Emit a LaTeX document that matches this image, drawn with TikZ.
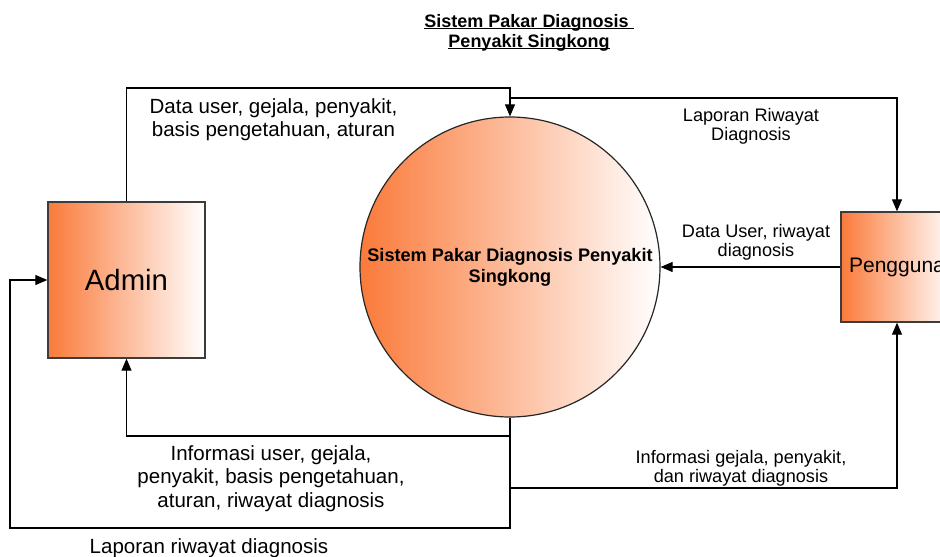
\documentclass[tikz,border=0pt]{standalone}
\usepackage{fontspec}
\setmainfont{Liberation Sans}
\usetikzlibrary{arrows.meta}

\definecolor{entityorange}{RGB}{250,122,58}
\definecolor{framegray}{RGB}{60,60,60}

% underline drawn just below the baseline, crossing the descenders
\newcommand\ulined[1]{\setbox0\hbox{#1}\rlap{\rule[-0.13em]{\wd0}{0.065em}}\box0}
% centred lines whose baseline is the first line's
\newcommand\rows[1]{\begin{tabular}[t]{@{}c@{}}#1\end{tabular}}

\begin{document}
\begin{tikzpicture}[x=0.75pt,y=-0.75pt,
  flow/.style={draw=black, line width=0.8pt, -{Triangle[length=9pt,width=7.5pt]}},
  entity/.style={rectangle, draw=framegray, line width=1pt, left color=entityorange, right color=white, inner sep=0pt},
  process/.style={circle, draw=black!85, line width=0.9pt, left color=entityorange, right color=white, minimum size=225pt, inner sep=0pt, align=center},
  biglabel/.style={inner sep=0pt, anchor=base, font=\fontsize{15.4}{17.7}\selectfont},
  smalllabel/.style={inner sep=0pt, anchor=base, font=\fontsize{13.6}{14.25}\selectfont},
]
\useasboundingbox (0,0) rectangle (940,557);
\clip (0,0) rectangle (940,557);

% title
\node[inner sep=0pt, anchor=base, font=\bfseries\fontsize{13.5}{15}\selectfont] (title) at (529,27)
  {\rows{\ulined{Sistem Pakar Diagnosis\ }\\\ulined{Penyakit Singkong}}};

% external entities and the process
\node[entity, minimum width=117.75pt, minimum height=117pt, font=\fontsize{22}{26}\selectfont] (admin) at (126.5,280) {Admin};
\node[entity, minimum width=84pt, minimum height=82.5pt, font=\fontsize{15.75}{19}\selectfont] (user) at (897,267) {Pengguna};
\node[process, font=\bfseries\fontsize{13.6}{15.75}\selectfont] (sys) at (510,267) {Sistem Pakar Diagnosis Penyakit\\Singkong};

% bend points of the data flows
\coordinate (up1) at (126.5,88);
\coordinate (top1) at (510,88);
\coordinate (tap1) at (510,98);
\coordinate (low1) at (510,436);
\coordinate (tap2) at (510,488);
\coordinate (low2) at (510,528);
\coordinate (corner) at (10,528);

% Admin -> process
\draw[flow] (admin.north) -- (up1) -- (top1) -- (sys.north);
% process -> Pengguna (report)
\draw[flow] (tap1) -| (user.north);
% Pengguna -> process
\draw[flow] (user.west) -- (sys.east);
% process -> Admin (information)
\draw[flow] (sys.south) -- (low1) -| (admin.south);
% process -> Admin (report)
\draw[flow] (low1) -- (low2) -- (corner) |- (admin.west);
% process -> Pengguna (information)
\draw[flow] (tap2) -| (user.south);

% flow labels
\node[biglabel] (lbladmin) at (273.5,113) {\rows{Data user, gejala, penyakit,\\basis pengetahuan, aturan}};
\node[smalllabel] (lblreport) at (751,121) {\rows{Laporan Riwayat\\Diagnosis}};
\node[smalllabel] (lbluser) at (756,237) {\rows{Data User, riwayat\\diagnosis}};
\node[biglabel] (lblinfo) at (271,460) {\rows{Informasi user, gejala,\\penyakit, basis pengetahuan,\\aturan, riwayat diagnosis}};
\node[smalllabel] (lblinfouser) at (741,463) {\rows{Informasi gejala, penyakit,\\dan riwayat diagnosis}};
\node[biglabel] (lblhistory) at (209,553) {Laporan riwayat diagnosis};
\end{tikzpicture}
\end{document}
